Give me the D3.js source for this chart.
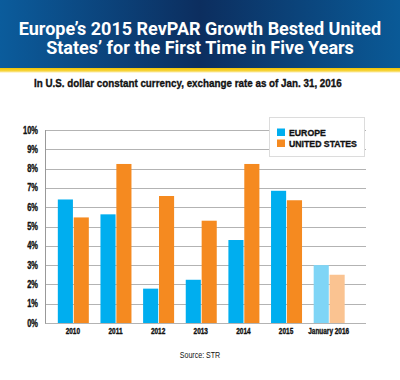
<!DOCTYPE html>
<html>
<head>
<meta charset="utf-8">
<script src="https://cdn.jsdelivr.net/npm/d3@7"></script>
<style>
body{margin:0;background:#fff;}
.grid{stroke:#b3b3b3;stroke-width:1;}
.cond{font-family:"Liberation Sans",Arial,sans-serif;}
.heavy{stroke:#111;stroke-width:0.35;}
</style>
</head>
<body>
<div id="chart"></div>
<script>
var categories=["2010","2011","2012","2013","2014","2015","January 2016"];
var europe=[6.4,5.63,1.78,2.24,4.3,6.85,3.0];
var unitedStates=[5.47,8.24,6.58,5.3,8.24,6.36,2.5];
var seriesNames=["EUROPE","UNITED STATES"];
var yTicks=[0,1,2,3,4,5,6,7,8,9,10];

var svg=d3.select("#chart")
		.append("svg")
		.attr("width",400)
		.attr("height",380);

// squeeze text sideways, like a condensed face
// k = wanted width / natural width of the widest label
function condense(sel,want){
	var w=0;
	sel.each(function(){w=Math.max(w,this.getComputedTextLength());});
	var k=want/w;
	sel.each(function(){
		var t=d3.select(this);
		var x=+t.attr("x"),y=+t.attr("y");
		t.attr("x",0).attr("y",0)
		 .attr("transform","translate("+x+","+y+") scale("+k+",1)");
	});
}

var defs=svg.append("defs");
var hg=defs.append("linearGradient").attr("id","hdr");
hg.append("stop").attr("offset","0%").attr("stop-color","#0b5c9c");
hg.append("stop").attr("offset","50%").attr("stop-color","#0c2e5f");
hg.append("stop").attr("offset","100%").attr("stop-color","#0a5a97");
var yg=defs.append("linearGradient").attr("id","ylw").attr("x1",0).attr("x2",0).attr("y1",0).attr("y2",1);
yg.append("stop").attr("offset","0%").attr("stop-color","#f3c300");
yg.append("stop").attr("offset","60%").attr("stop-color","#f7d640");
yg.append("stop").attr("offset","100%").attr("stop-color","#ffffff");

svg.append("rect").attr("x",0).attr("y",0).attr("width",400).attr("height",68).attr("fill","url(#hdr)");
svg.append("rect").attr("x",0).attr("y",68).attr("width",400).attr("height",5).attr("fill","url(#ylw)");

var title=["Europe\u2019s 2015 RevPAR Growth Bested United","States\u2019 for the First Time in Five Years"];
svg.selectAll(".title").data(title).enter().append("text")
		.attr("class","title")
		.attr("x",200)
		.attr("y",function(d,i){return 35+i*18.5;})
		.attr("text-anchor","middle")
		.attr("fill","#fff")
		.attr("font-family","Roboto, 'Liberation Sans', sans-serif")
		.attr("font-weight","bold")
		.attr("font-size",18)
		.text(function(d){return d;});

var sub=svg.append("text")
		.attr("class","cond heavy")
		.attr("x",34)
		.attr("y",87)
		.attr("font-weight","bold")
		.attr("font-size",11.5)
		.attr("fill","#111")
		.text("In U.S. dollar constant currency, exchange rate as of Jan. 31, 2016");
condense(sub,308);

// scales
var y=d3.scaleLinear().domain([0,10]).range([323,130]);
var x=d3.scaleBand().domain(categories).range([51.5,350]);
var xs=d3.scaleBand().domain(seriesNames).range([-15,16]).paddingInner(0.05);

// grid lines
svg.selectAll(".grid").data(yTicks).enter().append("line")
		.attr("class","grid")
		.attr("x1",45)
		.attr("x2",366)
		.attr("y1",function(d){return Math.round(y(d))+0.5;})
		.attr("y2",function(d){return Math.round(y(d))+0.5;});
svg.append("line")
		.attr("x1",45.5).attr("x2",45.5)
		.attr("y1",y(10)).attr("y2",y(0)+0.5)
		.attr("stroke","#999");

var yt=svg.selectAll(".ytick").data(yTicks).enter().append("text")
		.attr("class","cond heavy")
		.attr("x",38)
		.attr("y",function(d){return y(d)+3.5;})
		.attr("text-anchor","end")
		.attr("font-weight","bold")
		.attr("font-size",10)
		.attr("fill","#111")
		.text(function(d){return d+"%";});
condense(yt,15);

// bars
var colors=[["#00aeef","#7fd5f6"],["#f58a20","#fac391"]];
var series=[europe,unitedStates];
series.forEach(function(vals,s){
	svg.selectAll(".bar"+s).data(vals).enter().append("rect")
		.attr("x",function(d,i){return x(categories[i])+x.bandwidth()/2+xs(seriesNames[s]);})
		.attr("width",xs.bandwidth())
		.attr("y",function(d){return y(d);})
		.attr("height",function(d){return y(0)-y(d);})
		.attr("fill",function(d,i){return i==categories.length-1?colors[s][1]:colors[s][0];});
});

var xl=svg.selectAll(".xlab").data(categories).enter().append("text")
		.attr("class","cond heavy")
		.attr("x",function(d){return x(d)+x.bandwidth()/2;})
		.attr("y",334)
		.attr("text-anchor","middle")
		.attr("font-weight","bold")
		.attr("font-size",8.5)
		.attr("fill","#111")
		.text(function(d){return d;});
condense(xl,41);

// legend
svg.append("rect")
		.attr("x",269.5).attr("y",117.5)
		.attr("width",95).attr("height",39)
		.attr("fill","#fff")
		.attr("stroke","#dcdcdc");
var lt=svg.selectAll(".leg").data(seriesNames).enter().append("text")
		.attr("class","cond heavy")
		.attr("x",289)
		.attr("y",function(d,i){return 136+i*11;})
		.attr("font-weight","bold")
		.attr("font-size",9.5)
		.attr("fill","#111")
		.text(function(d){return d;});
condense(lt,68);
seriesNames.forEach(function(n,i){
	svg.append("rect")
		.attr("x",277).attr("y",128.5+i*11)
		.attr("width",8).attr("height",7.5)
		.attr("fill",colors[i][0]);
});

var src=svg.append("text")
		.attr("class","cond")
		.attr("x",200)
		.attr("y",358)
		.attr("text-anchor","middle")
		.attr("font-size",9.5)
		.attr("fill","#111")
		.text("Source: STR");
condense(src,40.5);
</script>
</body>
</html>
